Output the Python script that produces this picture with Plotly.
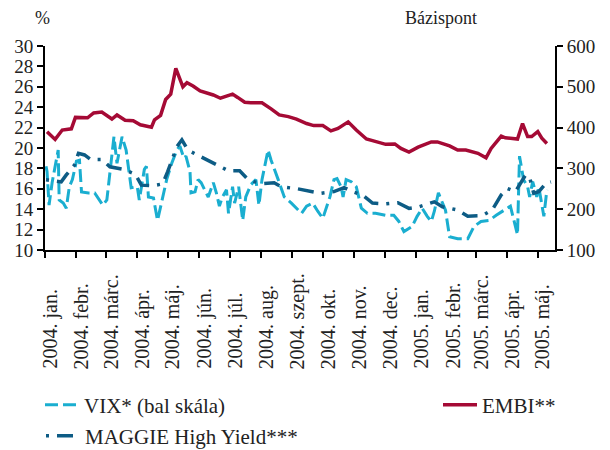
import plotly.graph_objects as go

# ---------------- data ----------------
month_ticks = ["2004-01-01", "2004-02-01", "2004-03-01", "2004-04-01", "2004-05-01",
               "2004-06-01", "2004-07-01", "2004-08-01", "2004-09-01", "2004-10-01",
               "2004-11-01", "2004-12-01", "2005-01-01", "2005-02-01", "2005-03-01",
               "2005-04-01", "2005-05-01"]
month_labels = ["2004. jan.", "2004. febr.", "2004. márc.", "2004. ápr.", "2004. máj.",
                "2004. jún.", "2004. júl.", "2004. aug.", "2004. szept.", "2004. okt.",
                "2004. nov.", "2004. dec.", "2005. jan.", "2005. febr.", "2005. márc.",
                "2005. ápr.", "2005. máj."]

vix_dates = ["2004-01-02", "2004-01-03", "2004-01-05", "2004-01-08", "2004-01-14", "2004-01-15",
             "2004-01-19", "2004-01-22", "2004-01-25", "2004-01-28", "2004-02-01", "2004-02-04",
             "2004-02-06", "2004-02-13", "2004-02-19", "2004-02-27", "2004-03-02", "2004-03-06",
             "2004-03-09", "2004-03-12", "2004-03-17", "2004-03-21", "2004-03-24", "2004-03-26",
             "2004-04-01", "2004-04-03", "2004-04-08", "2004-04-10", "2004-04-12", "2004-04-17",
             "2004-04-21", "2004-04-24", "2004-04-30", "2004-05-05", "2004-05-10", "2004-05-13",
             "2004-05-17", "2004-05-19", "2004-05-23", "2004-05-24", "2004-05-28", "2004-05-31",
             "2004-06-03", "2004-06-10", "2004-06-15", "2004-06-18", "2004-06-21", "2004-06-24",
             "2004-06-28", "2004-06-30", "2004-07-04", "2004-07-06", "2004-07-10", "2004-07-14",
             "2004-07-17", "2004-07-22", "2004-07-27", "2004-07-30", "2004-08-02", "2004-08-08",
             "2004-08-11", "2004-08-18", "2004-08-24", "2004-08-31", "2004-09-10", "2004-09-15",
             "2004-09-21", "2004-09-26", "2004-10-01", "2004-10-08", "2004-10-12", "2004-10-15",
             "2004-10-19", "2004-10-21", "2004-10-24", "2004-10-29", "2004-11-03", "2004-11-08",
             "2004-11-14", "2004-11-22", "2004-12-02", "2004-12-10", "2004-12-15", "2004-12-20",
             "2004-12-28", "2005-01-02", "2005-01-07", "2005-01-12", "2005-01-16", "2005-01-19",
             "2005-01-23", "2005-01-25", "2005-01-30", "2005-02-03", "2005-02-11", "2005-02-21",
             "2005-02-27", "2005-03-06", "2005-03-14", "2005-03-21", "2005-03-29", "2005-04-04",
             "2005-04-11", "2005-04-13", "2005-04-17", "2005-04-21", "2005-04-23", "2005-04-26",
             "2005-04-30", "2005-05-02", "2005-05-07", "2005-05-10"]
vix_values = [18.2, 17.7, 14.4, 16.6, 19.8, 14.9,
              14.6, 14.1, 16.2, 16.9, 18.7, 18.8,
              15.7, 15.6, 15.6, 14.4, 14.9, 18.2,
              21.1, 18.5, 21.1, 19.8, 17.5, 16.1,
              16.2, 14.9, 17.9, 18.2, 15.2, 15.1,
              12.9, 14.3, 16.9, 18.5, 19.8, 20.2,
              19.0, 19.2, 17.7, 15.6, 15.7, 16.9,
              16.6, 15.2, 16.6, 15.6, 14.3, 15.2,
              15.9, 13.6, 16.2, 14.6, 16.2, 12.9,
              15.2, 16.4, 16.9, 14.4, 16.9, 19.8,
              18.8, 16.9, 15.2, 14.6, 13.6, 14.3,
              14.6, 13.8, 13.1, 15.2, 16.9, 17.0,
              16.2, 15.2, 16.9, 16.7, 16.2, 14.1,
              13.6, 13.6, 13.4, 13.4, 12.8, 11.8,
              12.3, 13.3, 14.1, 13.3, 12.8, 13.8,
              15.6, 15.1, 13.9, 11.3, 11.1, 11.1,
              12.3, 12.8, 12.9, 13.4, 13.9, 14.3,
              11.5, 19.2, 16.9, 16.2, 15.2, 16.7,
              15.2, 16.2, 13.3, 15.9]

embi_dates = ["2004-01-03", "2004-01-11", "2004-01-18", "2004-01-27", "2004-01-31", "2004-02-12",
              "2004-02-18", "2004-02-26", "2004-03-07", "2004-03-12", "2004-03-20", "2004-03-28",
              "2004-04-04", "2004-04-15", "2004-04-18", "2004-04-24", "2004-04-29", "2004-05-04",
              "2004-05-09", "2004-05-16", "2004-05-20", "2004-05-26", "2004-06-02", "2004-06-08",
              "2004-06-15", "2004-06-22", "2004-06-28", "2004-07-04", "2004-07-09", "2004-07-16",
              "2004-07-22", "2004-08-02", "2004-08-11", "2004-08-19", "2004-08-28", "2004-09-05",
              "2004-09-15", "2004-09-22", "2004-10-01", "2004-10-09", "2004-10-16", "2004-10-26",
              "2004-11-03", "2004-11-13", "2004-11-19", "2004-12-02", "2004-12-11", "2004-12-17",
              "2004-12-25", "2005-01-03", "2005-01-16", "2005-01-22", "2005-02-03", "2005-02-11",
              "2005-02-19", "2005-03-03", "2005-03-11", "2005-03-16", "2005-03-26", "2005-03-30",
              "2005-04-11", "2005-04-16", "2005-04-21", "2005-04-25", "2005-05-01", "2005-05-05",
              "2005-05-10"]
embi_values = [390, 371, 394, 397, 425, 424,
               436, 438, 421, 431, 418, 417,
               407, 401, 419, 430, 469, 482,
               545, 500, 510, 502, 490, 486,
               480, 472, 476, 482, 474, 462,
               461, 461, 446, 431, 427, 421,
               410, 405, 405, 392, 398, 414,
               394, 372, 368, 359, 360, 349,
               340, 352, 365, 365, 355, 345,
               345, 337, 326, 349, 379, 375,
               372, 410, 378, 378, 390, 374,
               361]

maggie_dates = ["2004-01-02", "2004-01-08", "2004-01-17", "2004-01-22", "2004-01-30", "2004-02-03",
                "2004-02-09", "2004-02-15", "2004-02-26", "2004-03-05", "2004-03-18", "2004-03-30",
                "2004-04-05", "2004-04-17", "2004-04-26", "2004-05-01", "2004-05-10", "2004-05-15",
                "2004-05-19", "2004-05-24", "2004-06-02", "2004-06-13", "2004-06-21", "2004-06-30",
                "2004-07-11", "2004-07-18", "2004-07-26", "2004-08-03", "2004-08-14", "2004-08-21",
                "2004-09-06", "2004-09-19", "2004-09-29", "2004-10-12", "2004-10-22", "2004-10-30",
                "2004-11-09", "2004-11-19", "2004-12-02", "2004-12-14", "2004-12-25", "2005-01-04",
                "2005-01-19", "2005-01-27", "2005-02-11", "2005-02-21", "2005-03-07", "2005-03-17",
                "2005-03-26", "2005-04-01", "2005-04-09", "2005-04-19", "2005-04-23", "2005-04-27",
                "2005-05-02", "2005-05-09", "2005-05-14"]
maggie_values = [272, 270, 267, 284, 308, 337,
                 333, 322, 322, 304, 298, 286,
                 259, 258, 262, 292, 353, 370,
                 353, 341, 330, 316, 306, 294,
                 294, 276, 267, 263, 265, 255,
                 250, 243, 239, 243, 253, 243,
                 235, 215, 213, 216, 202, 206,
                 218, 206, 198, 183, 184, 198,
                 235, 251, 243, 284, 278, 239,
                 243, 263, 267]

series_names = ["VIX* (bal skála)", "EMBI**", "MAGGIE High Yield***"]
left_title = "%"
right_title = "Bázispont"

# ---------------- figure ----------------
FONT = "Liberation Serif"
TXT = "#222222"
VIX_C = "#1aaed0"
EMBI_C = "#a50a35"
MAG_C = "#0d5c85"

fig = go.Figure()
fig.add_trace(go.Scatter(x=vix_dates, y=vix_values, name=series_names[0], mode="lines",
                         line=dict(color=VIX_C, width=3, dash="13px,5px"),
                         yaxis="y", legend="legend"))
fig.add_trace(go.Scatter(x=embi_dates, y=embi_values, name=series_names[1], mode="lines",
                         line=dict(color=EMBI_C, width=3.5),
                         yaxis="y2", legend="legend2"))
fig.add_trace(go.Scatter(x=maggie_dates, y=maggie_values, name=series_names[2], mode="lines",
                         line=dict(color=MAG_C, width=3.5, dash="3px,8px,16px,8px"),
                         yaxis="y2", legend="legend3"))

line_common = dict(showline=True, linecolor="black", linewidth=2, ticks="outside",
                   ticklen=6, tickwidth=2, tickcolor="black", showgrid=False, zeroline=False)
tickfont = dict(family=FONT, size=19, color=TXT)
legfont = dict(family=FONT, size=21, color=TXT)


def leg(xpx, ypx):
    return dict(orientation="h", x=(xpx - 45) / 510, y=-(ypx - 250) / 204,
                xanchor="left", yanchor="middle", itemwidth=34, font=legfont,
                bgcolor="rgba(0,0,0,0)")


fig.update_layout(
    width=610, height=450,
    margin=dict(l=45, r=55, t=46, b=200, autoexpand=False),
    paper_bgcolor="white", plot_bgcolor="white",
    font=dict(family=FONT, size=19, color=TXT),
    xaxis=dict(type="date", range=["2004-01-01", "2005-05-18"], tickvals=month_ticks,
               showticklabels=False, **line_common),
    yaxis=dict(range=[10, 30], dtick=2, tick0=10, tickfont=tickfont, **line_common),
    yaxis2=dict(range=[100, 600], dtick=100, tick0=100, overlaying="y", side="right",
                tickfont=tickfont, **line_common),
    legend=leg(40, 405),
    legend2=leg(438, 405),
    legend3=leg(41, 436),
    showlegend=True,
)

# rotated month labels, starting from a common baseline below the axis
for tv, lab in zip(month_ticks, month_labels):
    fig.add_annotation(x=tv, xref="x", y=-(371 - 250) / 204, yref="paper", text=lab,
                       textangle=-90, showarrow=False, xanchor="center", yanchor="bottom",
                       xshift=5, font=dict(family=FONT, size=20, color=TXT))

fig.add_annotation(x=(42 - 45) / 510, y=1 + (46 - 18) / 204, xref="paper", yref="paper",
                   text=left_title, showarrow=False, xanchor="center", yanchor="middle",
                   font=dict(family=FONT, size=18, color=TXT))
fig.add_annotation(x=(403 - 45) / 510, y=1 + (46 - 18) / 204, xref="paper", yref="paper",
                   text=right_title, showarrow=False, xanchor="left", yanchor="middle",
                   font=dict(family=FONT, size=18, color=TXT))

fig.write_html("out.html", config={"displayModeBar": False},
               post_script="document.body.style.margin='0';")
